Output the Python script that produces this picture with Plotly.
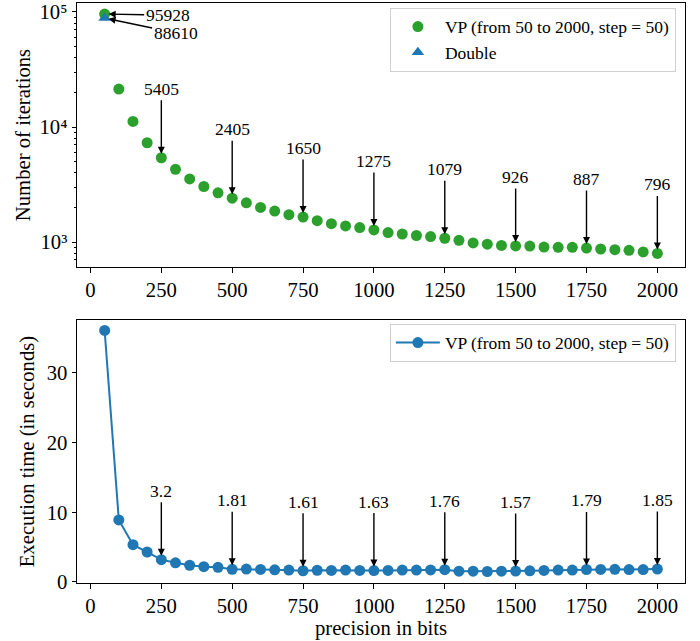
import math
import plotly.graph_objects as go
from plotly.subplots import make_subplots

precision = [50, 100, 150, 200, 250, 300, 350, 400, 450, 500,
             550, 600, 650, 700, 750, 800, 850, 900, 950, 1000,
             1050, 1100, 1150, 1200, 1250, 1300, 1350, 1400, 1450, 1500,
             1550, 1600, 1650, 1700, 1750, 1800, 1850, 1900, 1950, 2000]
vp_iterations = [95928, 21350, 11180, 7300, 5405, 4290, 3540, 3040, 2680, 2405,
                 2195, 2000, 1860, 1730, 1650, 1535, 1445, 1380, 1335, 1275,
                 1210, 1175, 1140, 1115, 1079, 1035, 983, 959, 934, 926,
                 922, 905, 899, 899, 887, 870, 858, 847, 820, 796]
double_precision = [50]
double_iterations = [88610]
vp_time = [36.1, 8.9, 5.35, 4.3, 3.2, 2.75, 2.4, 2.2, 2.1, 1.81,
           1.85, 1.8, 1.75, 1.7, 1.61, 1.68, 1.65, 1.7, 1.65, 1.63,
           1.65, 1.7, 1.7, 1.72, 1.76, 1.55, 1.55, 1.5, 1.55, 1.57,
           1.6, 1.65, 1.7, 1.7, 1.79, 1.8, 1.82, 1.78, 1.78, 1.85]
annot_precision = [250, 500, 750, 1000, 1250, 1500, 1750, 2000]
annot_time_labels = ["3.2", "1.81", "1.61", "1.63", "1.76", "1.57", "1.79", "1.85"]
xticks = [0, 250, 500, 750, 1000, 1250, 1500, 1750, 2000]
log_major = [1000, 10000, 100000]
log_major_text = ["10³", "10⁴", "10⁵"]
log_minor = [700, 800, 900, 2000, 3000, 4000, 5000, 6000, 7000, 8000, 9000,
             20000, 30000, 40000, 50000, 60000, 70000, 80000, 90000]
time_ticks = [0, 10, 20, 30]

GREEN = "#2ca02c"
BLUE = "#1f77b4"
FONT = "Liberation Serif"
TICK_SIZE = 20.7
TITLE_SIZE = 20.7
SMALL_SIZE = 17.5
legend_name = "VP (from 50 to 2000, step = 50)"

fig = make_subplots(rows=2, cols=1, vertical_spacing=0.0914)

fig.add_trace(go.Scatter(x=precision, y=vp_iterations, mode="markers", name=legend_name,
                         marker=dict(color=GREEN, size=11), legend="legend"), row=1, col=1)
fig.add_trace(go.Scatter(x=double_precision, y=double_iterations, mode="markers", name="Double",
                         marker=dict(color=BLUE, size=11, symbol="triangle-up"), legend="legend"), row=1, col=1)
fig.add_trace(go.Scatter(x=precision, y=vp_time, mode="lines+markers", name=legend_name,
                         line=dict(color=BLUE, width=2), marker=dict(color=BLUE, size=11),
                         legend="legend2"), row=2, col=1)

arrow_common = dict(showarrow=True, arrowhead=2, arrowsize=1, arrowwidth=1.4, arrowcolor="black",
                    font=dict(family=FONT, size=SMALL_SIZE, color="black"))

idx_map = {p: i for i, p in enumerate(precision)}
fig.add_annotation(x=precision[0], y=math.log10(vp_iterations[0]), xref="x", yref="y",
                   text=str(vp_iterations[0]), ax=63, ay=1, standoff=4, **arrow_common)
fig.add_annotation(x=double_precision[0], y=math.log10(double_iterations[0]), xref="x", yref="y",
                   text=str(double_iterations[0]), ax=71, ay=15, standoff=4, **arrow_common)
for p in annot_precision:
    v = vp_iterations[idx_map[p]]
    fig.add_annotation(x=p, y=math.log10(v), xref="x", yref="y", text=str(v), ax=0, ay=-69,
                       standoff=4, **arrow_common)
for p, lab in zip(annot_precision, annot_time_labels):
    v = vp_time[idx_map[p]]
    fig.add_annotation(x=p, y=v, xref="x2", yref="y2", text=lab, ax=0, ay=-69,
                       standoff=4, **arrow_common)

axis_common = dict(showline=True, linecolor="black", linewidth=1, mirror=True,
                   ticks="outside", ticklen=4.5, tickwidth=1, tickcolor="black",
                   showgrid=False, zeroline=False, ticklabeloverflow="allow",
                   tickfont=dict(family=FONT, size=TICK_SIZE, color="black"))

fig.update_xaxes(range=[-47.5, 2097.5], tickvals=xticks, **axis_common)
fig.update_xaxes(title=dict(text="precision in bits", font=dict(family=FONT, size=TITLE_SIZE, color="black"),
                            standoff=2), row=2, col=1)

fig.update_yaxes(type="log", range=[2.783, 5.078], tickvals=log_major, ticktext=log_major_text,
                 minor=dict(ticks="outside", ticklen=2.5, tickcolor="black", tickwidth=1,
                            tickvals=log_minor, showgrid=False),
                 title=dict(text="Number of iterations", font=dict(family=FONT, size=TITLE_SIZE, color="black"),
                            standoff=3),
                 row=1, col=1, **axis_common)
fig.update_yaxes(range=[-0.15, 37.6], tickvals=time_ticks,
                 title=dict(text="Execution time (in seconds)", font=dict(family=FONT, size=TITLE_SIZE, color="black"),
                            standoff=6),
                 row=2, col=1, **axis_common)

fig.update_layout(
    width=700, height=641,
    margin=dict(l=77, r=15, t=3, b=58, autoexpand=False),
    plot_bgcolor="white", paper_bgcolor="white",
    font=dict(family=FONT, size=SMALL_SIZE, color="black"),
    showlegend=True,
    legend=dict(x=0.985, y=0.992, xanchor="right", yanchor="top", itemwidth=44,
                bgcolor="white", bordercolor="#d0d0d0", borderwidth=1,
                font=dict(family=FONT, size=SMALL_SIZE, color="black")),
    legend2=dict(x=0.985, y=0.447, xanchor="right", yanchor="top", itemwidth=44,
                 bgcolor="white", bordercolor="#d0d0d0", borderwidth=1,
                 font=dict(family=FONT, size=SMALL_SIZE, color="black")),
)
fig.layout.yaxis.domain = [0.5448, 1.0]
fig.layout.yaxis2.domain = [0.0, 0.4534]

fig.write_html("out.html", config={"displayModeBar": False},
               post_script="document.body.style.margin='0px';document.body.style.overflow='hidden';")
